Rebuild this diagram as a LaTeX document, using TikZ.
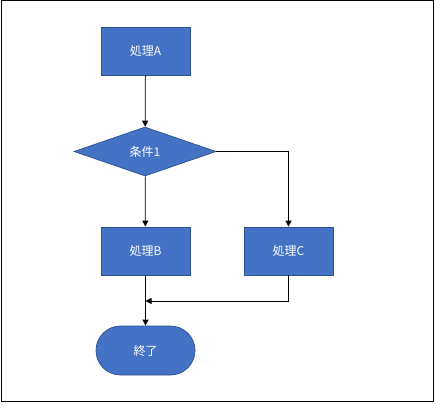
\documentclass[tikz,border=0pt]{standalone}
\usepackage{fontspec}
\newfontfamily\cjk{Noto Sans CJK JP}
\usetikzlibrary{shapes.geometric,shapes.misc,arrows.meta}
\definecolor{boxfill}{HTML}{4472C4}
\definecolor{boxline}{HTML}{2F528F}
\tikzset{
  proc/.style={draw=boxline,fill=boxfill,text=white,line width=0.75pt,
    minimum width=89pt,minimum height=48pt,inner sep=0pt,font=\cjk\fontsize{12}{14}\selectfont},
  cond/.style={proc,diamond,minimum width=142pt,minimum height=49pt},
  term/.style={proc,rounded rectangle,minimum width=99pt,minimum height=49pt},
  flow/.style={line width=0.75pt,-{Triangle[length=6pt,width=6pt]}}
}
\begin{document}
\begin{tikzpicture}[x=1pt,y=-1pt]
\useasboundingbox (0,0) rectangle (435,404);
\draw[line width=1pt] (1,1) rectangle (433,401);

\node[proc] (pA) at (145.5,51) {処理A};
\node[cond] (c1) at (145,151.5) {条件1};
\draw[flow] (pA) -- (c1);

\node[proc] (pB) at (145.5,251) {処理B};
\draw[flow] (c1) -- (pB);
\node[proc] (pC) at (288.5,251) {処理C};
\draw[flow] (c1.east) -| (pC.north);

\node[term] (end) at (145.5,350.5) {終了};
\draw[flow] (pB) -- (end);
\coordinate (join) at (145.5,301);
\draw[flow] (pC.south) |- (join);
\end{tikzpicture}
\end{document}
